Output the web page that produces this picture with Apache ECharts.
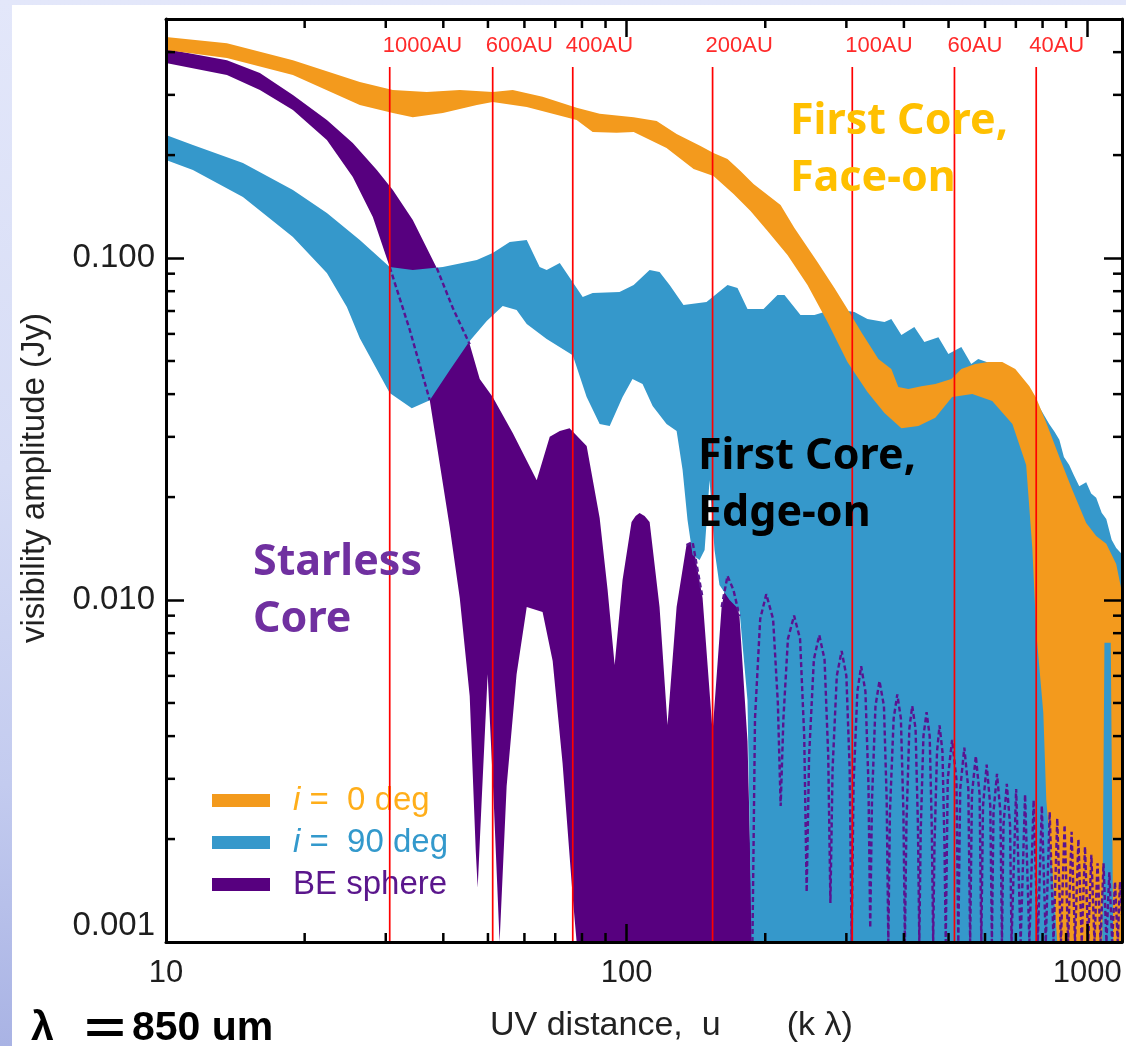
<!DOCTYPE html>
<html>
<head>
<meta charset="utf-8">
<script src="https://cdn.jsdelivr.net/npm/echarts@6/dist/echarts.min.js"></script>
<style>
  html, body { margin: 0; padding: 0; width: 1126px; height: 1046px; overflow: hidden; }
  body { background: linear-gradient(180deg, #e3e7fa 0%, #d6dcf5 45%, #c3cbef 75%, #a9b3e4 100%); position: relative; }
  #paper { position: absolute; left: 12px; top: 5px; width: 1114px; height: 1041px; background: #ffffff; }
  #chart { position: absolute; left: 0; top: 0; width: 1126px; height: 1046px; }
</style>
</head>
<body>
<div id="paper"></div>
<div id="chart"></div>
<script>
// Visibility amplitude vs. uv distance at 850 um: first core (face-on / edge-on) and a BE sphere.
// Each band is stored as its upper and lower envelope, [u (k lambda), amplitude (Jy)].

const faceOnUpper = [
  [10, 0.443], [13.56, 0.425], [18.86, 0.379], [26.35, 0.327], [31.08, 0.310], [36.83, 0.306],
  [43.43, 0.310], [51.2, 0.306], [56.6, 0.310], [65.7, 0.296], [77.9, 0.275], [87.4, 0.264],
  [103.6, 0.258], [116.2, 0.2515], [128.4, 0.2305], [144.7, 0.2126], [154.4, 0.2028], [165.6, 0.1948],
  [176.7, 0.1796], [188.6, 0.1646], [215.9, 0.1429], [231.4, 0.1224], [259.6, 0.0973], [282.6, 0.0817],
  [301.6, 0.0709], [323.4, 0.0607], [352.1, 0.0507], [375.6, 0.0474], [389, 0.0420], [409, 0.0414],
  [436.4, 0.0422], [468, 0.0428], [507, 0.0443], [533, 0.0474], [571, 0.0490], [610, 0.0497],
  [654, 0.0497], [698, 0.0474], [749, 0.0422], [775, 0.039], [815, 0.033], [870, 0.0262],
  [928, 0.021], [995, 0.0168], [1046, 0.0154], [1100, 0.0146], [1156, 0.01274], [1190, 0.0105]
];
const faceOnLower = [
  [10, 0.4056], [13.56, 0.3845], [18.86, 0.3428], [26.35, 0.280], [31.08, 0.2655], [34.34, 0.258],
  [39.9, 0.2655], [47.3, 0.280], [51.2, 0.2858], [60.7, 0.2764], [77.9, 0.2532], [84.4, 0.2336],
  [95.1, 0.2325], [103.6, 0.2336], [122.1, 0.2098], [139.8, 0.182], [154.4, 0.1737], [170.7, 0.1539],
  [185.8, 0.1372], [202.3, 0.1199], [223.5, 0.102], [247, 0.0834], [273, 0.065], [301.6, 0.0497],
  [333.3, 0.0406], [362.9, 0.0352], [395, 0.0318], [430, 0.0323], [468, 0.0341], [509, 0.0392],
  [563, 0.040], [622, 0.0382], [688, 0.0327], [737, 0.0248], [760, 0.0142], [775, 0.00811],
  [803, 0.00467], [815, 0.0026], [840, 0.00162], [861, 0.001], [1078, 0.001], [1090, 0.0075],
  [1125, 0.0075], [1139, 0.001], [1190, 0.001]
];

const edgeOnUpper = [
  [10, 0.2289], [11.44, 0.214], [14.69, 0.1896], [18.86, 0.158], [22.35, 0.1354], [26.35, 0.1129],
  [30.6, 0.0941], [34.34, 0.0922], [39.9, 0.0941], [47.3, 0.0987], [51.2, 0.1034], [55.75, 0.1114],
  [60.7, 0.1129], [64.75, 0.0941], [67.06, 0.0922], [71.6, 0.0967], [80.3, 0.0769], [84.4, 0.079],
  [96.5, 0.0795], [103.6, 0.0834], [112.2, 0.0922], [117.9, 0.0910], [124, 0.0834], [132.9, 0.0729],
  [149.1, 0.0744], [165.6, 0.0834], [174.1, 0.0817], [183, 0.0709], [198.3, 0.0709], [212.6, 0.078],
  [220.2, 0.078], [238.5, 0.0681], [255.7, 0.0681], [282.6, 0.0709], [312.3, 0.0695], [333.3, 0.0663],
  [362.9, 0.065], [375.6, 0.0663], [395, 0.0596], [421.4, 0.0629], [443, 0.0568], [475.3, 0.0587],
  [499.5, 0.0524], [533, 0.0549], [560, 0.049], [580, 0.0507], [622, 0.049], [654, 0.048],
  [712, 0.0455], [760, 0.040], [787, 0.0367], [827, 0.0327], [850, 0.031], [870, 0.0294],
  [890, 0.0262], [914, 0.0248], [935, 0.0232], [961, 0.0215], [995, 0.0221], [1020, 0.0205],
  [1046, 0.0199], [1075, 0.0180], [1100, 0.01725], [1130, 0.0150], [1156, 0.0142], [1190, 0.0136]
];
const edgeOnLower = [
  [10, 0.1934], [11.44, 0.1809], [14.69, 0.1508], [18.86, 0.1152], [22.35, 0.0904], [24.7, 0.0719],
  [26.35, 0.0583], [30.6, 0.0403], [34.17, 0.0364], [37.38, 0.0384], [41.3, 0.047], [45.64, 0.0572],
  [49.7, 0.0654], [53.83, 0.0724], [57.7, 0.0705], [60.7, 0.0641], [67.06, 0.058], [76.4, 0.052],
  [81.9, 0.0392], [87.4, 0.0327], [91.9, 0.0323], [98, 0.0392], [103, 0.0443], [108.3, 0.0428],
  [113.9, 0.0369], [122.1, 0.0327], [128.4, 0.0312], [132.3, 0.024], [135.6, 0.01714], [139.1, 0.01354],
  [144, 0.0131], [147.7, 0.014], [151.4, 0.0224], [155.2, 0.014], [159.1, 0.01106], [167.3, 0.0100],
  [175.8, 0.00935], [183, 0.0051], [186.7, 0.001], [1190, 0.001]
];

const beUpper = [
  [10, 0.4084], [13.56, 0.379], [15.99, 0.3475], [18.86, 0.2997], [22.35, 0.2532], [25.44, 0.217],
  [28.69, 0.1809], [31.08, 0.158], [34.34, 0.1292], [38.71, 0.0935], [41.95, 0.0714], [45.64, 0.056],
  [47.99, 0.0443], [51.2, 0.0392], [56.6, 0.0308], [63.8, 0.0224], [68.1, 0.030], [71.6, 0.0312],
  [75.2, 0.0318], [81.9, 0.0282], [87.4, 0.01737], [90.9, 0.01077], [94.2, 0.00646], [98, 0.01144],
  [102.5, 0.0169], [104.6, 0.0176], [106.7, 0.01796], [109.4, 0.0176], [112.2, 0.0169], [117.9, 0.00954],
  [122.7, 0.00431], [128.4, 0.00954], [134.9, 0.01448], [139.1, 0.01478], [146.2, 0.01014], [153.7, 0.00411],
  [160.8, 0.00954], [165.6, 0.01176], [170.6, 0.0107], [175.8, 0.00898], [183, 0.00387], [187.6, 0.001]
];
const beLower = [
  [10, 0.3717], [13.56, 0.3428], [15.99, 0.310], [18.86, 0.2708], [22.35, 0.2213], [25.44, 0.1726],
  [28.12, 0.1318], [30.6, 0.0941], [33.83, 0.0616], [37.38, 0.0384], [39.3, 0.025], [41.3, 0.01635],
  [43.43, 0.01014], [45.64, 0.00524], [47.03, 0.00186], [47.5, 0.00144], [48.46, 0.0026], [49.93, 0.00607],
  [51.45, 0.0026], [53, 0.001], [54.9, 0.00286], [57.7, 0.00607], [60.7, 0.00954], [65.7, 0.00923],
  [69.1, 0.00663], [72.6, 0.00334], [76.4, 0.00135], [77.9, 0.001], [187.6, 0.001]
];
// BE sphere ringing beyond the filled part (drawn dashed)
const beRings = [
  [190, 0.0045], [195, 0.0088], [201, 0.0104], [208, 0.0088], [213, 0.005], [216, 0.0025],
  [219, 0.0045], [224, 0.0077], [231, 0.0090], [238, 0.0077], [243, 0.004], [246, 0.0014],
  [249, 0.0035], [255, 0.0067], [262, 0.0079], [269, 0.0067], [274, 0.0035], [277, 0.0013],
  [280, 0.0032], [286, 0.006], [293, 0.0071], [300, 0.006], [305, 0.0032], [308, 0.001],
  [311, 0.0029], [317, 0.0054], [323, 0.0064], [330, 0.0054], [335, 0.0029], [338, 0.0011],
  [341, 0.0026], [347, 0.0049], [354, 0.0058], [362, 0.0049], [367, 0.0026], [370, 0.001],
  [373, 0.0024], [380, 0.0045], [387, 0.0053], [394, 0.0045], [399, 0.0024], [402, 0.001],
  [405, 0.0022], [411, 0.0042], [417, 0.0049], [424, 0.0042], [429, 0.0022], [432, 0.001],
  [435, 0.0021], [441, 0.004], [448, 0.0047], [455, 0.004], [460, 0.0021], [463, 0.001],
  [466, 0.0019], [472, 0.0036], [478, 0.0043], [485, 0.0036], [490, 0.0019], [493, 0.001],
  [498, 0.003], [509, 0.0039], [520, 0.003], [525, 0.001],
  [530, 0.0028], [541, 0.0037], [552, 0.0028], [557, 0.001],
  [562, 0.0027], [573, 0.0035], [584, 0.0027], [589, 0.001],
  [594, 0.0025], [605, 0.0033], [616, 0.0025], [621, 0.001],
  [626, 0.0024], [637, 0.0031], [648, 0.0024], [653, 0.001],
  [658, 0.0022], [669, 0.0029], [680, 0.0022], [685, 0.001],
  [701, 0.0028], [717, 0.001], [733, 0.0027], [749, 0.001], [765, 0.0026], [781, 0.001],
  [797, 0.0025], [813, 0.001], [829, 0.0024], [845, 0.001], [861, 0.0023], [877, 0.001],
  [893, 0.0022], [909, 0.001], [925, 0.0021], [941, 0.001], [957, 0.002], [973, 0.001],
  [989, 0.0019], [1005, 0.001], [1021, 0.0018], [1037, 0.001], [1053, 0.0017], [1069, 0.001],
  [1085, 0.0017], [1101, 0.001], [1117, 0.0016], [1133, 0.001], [1149, 0.0015], [1165, 0.001],
  [1178, 0.0015], [1190, 0.0012]
];

// projected spatial scales marked on the u axis
const auLabels = ['1000AU', '600AU', '400AU', '200AU', '100AU', '60AU', '40AU'];
const auUV = [30.6, 51.2, 76.4, 153.7, 309, 515, 775];

const minorTicksX = [20, 30, 40, 50, 60, 70, 80, 90, 200, 300, 400, 500, 600, 700, 800, 900];
const minorTicksY = [0.002, 0.003, 0.004, 0.005, 0.006, 0.007, 0.008, 0.009,
                     0.02, 0.03, 0.04, 0.05, 0.06, 0.07, 0.08, 0.09, 0.2, 0.3, 0.4];

const seriesNames = ['i =  0 deg', 'i =  90 deg', 'BE sphere'];

const ORANGE = '#f39a1d', BLUE = '#3598cb', PURPLE = '#57007f', DASH = '#5a1390';
const SANS = '"Liberation Sans", Arial, Helvetica, sans-serif';
const NOTO = '"Noto Sans", "Noto Sans CJK JP", sans-serif';

// part of an envelope between two u values (inclusive)
function spanU(curve, u0, u1) {
  return curve.filter(p => p[0] >= u0 && p[0] <= u1);
}

// dashed BE-sphere outlines only where the band runs behind the first-core bands
const beDashSegments = [
  spanU(beLower, 30.6, 37.38),
  spanU(beUpper, 38.71, 45.64),
  spanU(beUpper, 134.9, 146.2),
  spanU(beUpper, 160.8, 175.8),
  spanU(beUpper, 187.6, 187.6).concat(beRings)
];

function bandRenderer(upper, lower) {
  return function (params, api) {
    const pts = upper.map(p => api.coord(p));
    for (let i = lower.length - 1; i >= 0; i--) pts.push(api.coord(lower[i]));
    return { type: 'polygon', shape: { points: pts }, style: { fill: api.visual('color') } };
  };
}

function isDecade(v) {
  const l = Math.log10(v);
  return Math.abs(l - Math.round(l)) < 1e-6;
}

function plainText(x, y, text, font, fill, align, extra) {
  const a = align || 'left';
  return Object.assign({
    type: 'text', x: x, y: y, z: 100,
    style: { text: text, font: font, fill: fill, textAlign: a, textVerticalAlign: 'middle',
             align: a, verticalAlign: 'middle' }
  }, extra || {});
}

function blockText(x, y, text, fill) {
  return {
    type: 'text', x: x, y: y, z: 100,
    style: { text: text, fill: fill, font: 'bold 43px ' + NOTO, lineHeight: 57,
             textAlign: 'left', textVerticalAlign: 'top', align: 'left', verticalAlign: 'top' }
  };
}

const axisLineStyle = { color: '#000', width: 3 };
const majorTick = { inside: true, length: 18, lineStyle: { color: '#000', width: 2.5 } };

const chart = echarts.init(document.getElementById('chart'), null, { renderer: 'canvas' });

const dashSeries = beDashSegments.map((seg, i) => ({
  name: 'beDash' + i, type: 'line', z: 4, clip: true, symbol: 'none', silent: true,
  data: seg,
  lineStyle: { color: DASH, width: 2.4, type: [5, 3] }
}));

const option = {
  animation: false,
  grid: { left: 166, right: 4, top: 19, bottom: 104, outerBoundsMode: 'none' },
  xAxis: [
    {
      type: 'log', logBase: 10, min: 10, max: 1190, position: 'bottom', z: 10,
      axisLine: { lineStyle: axisLineStyle }, axisTick: majorTick, splitLine: { show: false },
      axisLabel: {
        margin: 16, color: '#1e1e1e', fontSize: 31, fontFamily: SANS,
        formatter: v => (isDecade(v) ? String(Math.round(v)) : '')
      }
    },
    {
      type: 'log', logBase: 10, min: 10, max: 1190, position: 'top', z: 10,
      axisLine: { lineStyle: axisLineStyle }, axisTick: majorTick, splitLine: { show: false },
      axisLabel: { show: false }
    }
  ],
  yAxis: [
    {
      type: 'log', logBase: 10, min: 0.001, max: 0.5, position: 'left', z: 10,
      axisLine: { lineStyle: axisLineStyle }, axisTick: majorTick, splitLine: { show: false },
      axisLabel: {
        margin: 11, color: '#1e1e1e', fontSize: 33, fontFamily: SANS,
        verticalAlignMinLabel: 'bottom',
        formatter: v => (isDecade(v) ? v.toFixed(3) : '')
      }
    },
    {
      type: 'log', logBase: 10, min: 0.001, max: 0.5, position: 'right', z: 10,
      axisLine: { lineStyle: axisLineStyle }, axisTick: majorTick, splitLine: { show: false },
      axisLabel: { show: false }
    }
  ],
  legend: {
    orient: 'vertical', left: 207, top: 779, itemWidth: 58, itemHeight: 13, itemGap: 9,
    icon: 'rect', selectedMode: false,
    data: [
      { name: seriesNames[0], textStyle: { color: '#ffae1a' } },
      { name: seriesNames[1], textStyle: { color: '#3399cc' } },
      { name: seriesNames[2], textStyle: { color: '#5a168c' } }
    ],
    formatter: name => {
      if (name === seriesNames[0]) return '{io|i} =  0 deg';
      if (name === seriesNames[1]) return '{ib|i} =  90 deg';
      return name;
    },
    textStyle: {
      fontFamily: SANS, fontSize: 33, padding: [0, 0, 0, 18],
      rich: {
        io: { fontStyle: 'italic', color: '#ffae1a', fontFamily: SANS, fontSize: 33 },
        ib: { fontStyle: 'italic', color: '#3399cc', fontFamily: SANS, fontSize: 33 }
      }
    }
  },
  graphic: [
    plainText(35, 478, 'visibility amplitude (Jy)', '33px ' + SANS, '#222', 'center', { rotation: Math.PI / 2 }),
    plainText(490, 1026, 'UV distance,  u       (k \u03bb)', '34px ' + SANS, '#222'),
    blockText(790, 93, 'First Core,\nFace-on', '#ffc000'),
    blockText(698, 428, 'First Core,\nEdge-on', '#000000'),
    blockText(253, 534, 'Starless\nCore', '#7030a0'),
    plainText(31, 1029, '\u03bb', 'bold 41px ' + SANS, '#000'),
    plainText(80, 1028, '\uff1d', 'bold 50px "Noto Sans CJK JP", sans-serif', '#000'),
    plainText(132, 1029, '850 um', 'bold 41px ' + SANS, '#000')
  ],
  series: [
    {
      name: seriesNames[2], type: 'custom', z: 1, clip: true,
      itemStyle: { color: PURPLE },
      data: [beUpper[0]],
      renderItem: bandRenderer(beUpper, beLower)
    },
    {
      name: seriesNames[1], type: 'custom', z: 2, clip: true,
      itemStyle: { color: BLUE },
      data: [edgeOnUpper[0]],
      renderItem: bandRenderer(edgeOnUpper, edgeOnLower)
    },
    {
      name: seriesNames[0], type: 'custom', z: 3, clip: true,
      itemStyle: { color: ORANGE },
      data: [faceOnUpper[0]],
      renderItem: bandRenderer(faceOnUpper, faceOnLower)
    }
  ].concat(dashSeries, [
    {
      name: 'auScale', type: 'custom', z: 5, clip: false, silent: true,
      data: auUV.map(u => [u, 0.001]),
      renderItem: function (params, api) {
        const cs = params.coordSys;
        const x = api.coord([api.value(0), 0.001])[0];
        return {
          type: 'group',
          children: [
            { type: 'line', shape: { x1: x, y1: cs.y + 48, x2: x, y2: cs.y + cs.height },
              style: { stroke: '#ff0000', lineWidth: 1.7 } },
            { type: 'text', x: x - 7, y: cs.y + 27,
              style: { text: auLabels[params.dataIndex], fill: '#ff2a2a', font: '22px ' + SANS,
                       textAlign: 'left', textVerticalAlign: 'middle', align: 'left', verticalAlign: 'middle' } }
          ]
        };
      }
    },
    {
      name: 'minorX', type: 'custom', z: 11, clip: false, silent: true,
      data: minorTicksX.map(u => [u, 0.001]),
      renderItem: function (params, api) {
        const cs = params.coordSys;
        const x = api.coord([api.value(0), 0.001])[0];
        const st = { stroke: '#000', lineWidth: 2.5 };
        return {
          type: 'group',
          children: [
            { type: 'line', shape: { x1: x, y1: cs.y + cs.height, x2: x, y2: cs.y + cs.height - 9 }, style: st },
            { type: 'line', shape: { x1: x, y1: cs.y, x2: x, y2: cs.y + 9 }, style: st }
          ]
        };
      }
    },
    {
      name: 'minorY', type: 'custom', z: 11, clip: false, silent: true,
      data: minorTicksY.map(v => [10, v]),
      renderItem: function (params, api) {
        const cs = params.coordSys;
        const y = api.coord([10, api.value(1)])[1];
        const st = { stroke: '#000', lineWidth: 2.5 };
        return {
          type: 'group',
          children: [
            { type: 'line', shape: { x1: cs.x, y1: y, x2: cs.x + 9, y2: y }, style: st },
            { type: 'line', shape: { x1: cs.x + cs.width, y1: y, x2: cs.x + cs.width - 9, y2: y }, style: st }
          ]
        };
      }
    }
  ])
};

chart.setOption(option);
</script>
</body>
</html>
